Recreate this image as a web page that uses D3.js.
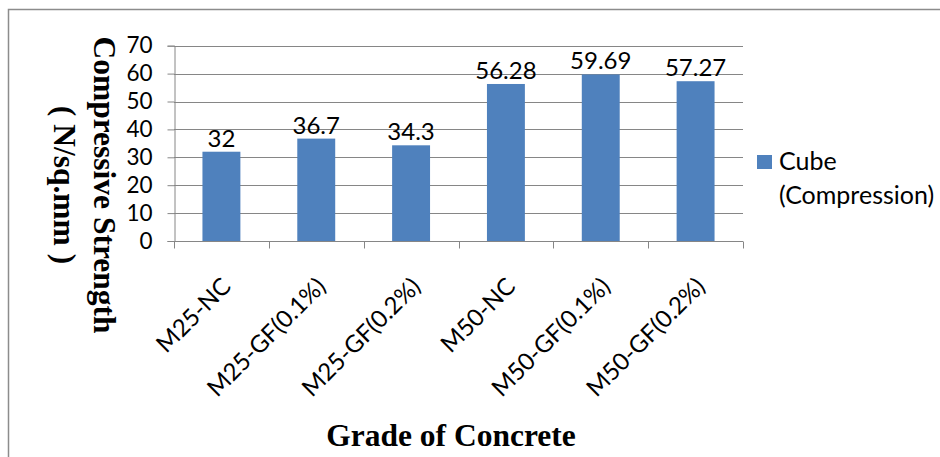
<!DOCTYPE html>
<html>
<head>
<meta charset="utf-8">
<script src="https://cdn.jsdelivr.net/npm/d3@7"></script>
<style>
  html, body { margin: 0; padding: 0; background: #fff; }
  svg { display: block; }
</style>
</head>
<body>
<svg id="chart" width="940" height="457"></svg>
<script>
// Compressive strength of cube specimens by concrete grade
const categories = ["M25-NC", "M25-GF(0.1%)", "M25-GF(0.2%)", "M50-NC", "M50-GF(0.1%)", "M50-GF(0.2%)"];
const cubeStrength = [32, 36.7, 34.3, 56.28, 59.69, 57.27];
const valueLabels = ["32", "36.7", "34.3", "56.28", "59.69", "57.27"];
const yTicks = [0, 10, 20, 30, 40, 50, 60, 70];
const seriesName = ["Cube", "(Compression)"];
const yTitle = ["Compressive Strength", "( N/sq.mm )"];
const xTitle = "Grade of Concrete";

const W = 940, H = 457;
const plot = { left: 174, right: 743, top: 45.7, bottom: 241 };
const barColor = "#4F81BD";
const gridColor = "#868686";
const sansFont = "Lato, 'Open Sans', sans-serif";
const serifFont = "'Liberation Serif', 'DejaVu Serif', serif";

const svg = d3.select("#chart");

// outer frame
svg.append("rect")
  .attr("x", 8.5).attr("y", 9.5)
  .attr("width", W).attr("height", H)
  .attr("fill", "#fff")
  .attr("stroke", "#8c8c8c").attr("stroke-width", 1.5);

const x = d3.scaleBand()
  .domain(categories)
  .range([plot.left, plot.right])
  .paddingInner(0.6)
  .paddingOuter(0.3);

const xCat = d3.scaleBand()
  .domain(categories)
  .range([plot.left, plot.right]);

const y = d3.scaleLinear()
  .domain([0, 70])
  .range([plot.bottom, plot.top]);

// horizontal gridlines
svg.append("g")
  .selectAll("line")
  .data(yTicks.filter(d => d > 0))
  .join("line")
  .attr("x1", plot.left).attr("x2", plot.right)
  .attr("y1", d => Math.round(y(d)) + 0.5).attr("y2", d => Math.round(y(d)) + 0.5)
  .attr("stroke", gridColor).attr("stroke-width", 1);

// bars
svg.append("g")
  .selectAll("rect")
  .data(cubeStrength)
  .join("rect")
  .attr("x", (d, i) => x(categories[i]))
  .attr("y", d => y(d))
  .attr("width", x.bandwidth())
  .attr("height", d => y(0) - y(d))
  .attr("fill", barColor);

// y axis
const yAxis = d3.axisLeft(y)
  .tickValues(yTicks)
  .tickSize(7)
  .tickPadding(15)
  .tickFormat(d3.format("d"));
const gy = svg.append("g")
  .attr("transform", `translate(${plot.left + 0.5},0)`)
  .call(yAxis);
gy.select(".domain").attr("stroke", gridColor);
gy.selectAll(".tick line").attr("stroke", gridColor);
gy.selectAll(".tick text")
  .attr("font-family", sansFont)
  .attr("font-size", 22.5)
  .attr("fill", "#000");

// x axis: ticks at category boundaries
const gx = svg.append("g")
  .attr("transform", `translate(0,${Math.round(plot.bottom) + 0.5})`);
gx.append("line")
  .attr("x1", plot.left).attr("x2", plot.right)
  .attr("stroke", gridColor);
gx.selectAll("line.tick")
  .data(categories.concat([null]))
  .join("line")
  .attr("class", "tick")
  .attr("x1", (d, i) => Math.round(plot.left + i * xCat.step()) + 0.5)
  .attr("x2", (d, i) => Math.round(plot.left + i * xCat.step()) + 0.5)
  .attr("y1", 0).attr("y2", 7)
  .attr("stroke", gridColor);

// category labels, rotated
svg.append("g")
  .selectAll("text")
  .data(categories)
  .join("text")
  .attr("transform", d => `translate(${xCat(d) + xCat.bandwidth() / 2 + 11},${plot.bottom + 47}) rotate(-45)`)
  .attr("text-anchor", "end")
  .attr("font-family", sansFont)
  .attr("font-size", 24)
  .attr("fill", "#000")
  .text(d => d);

// value labels
svg.append("g")
  .selectAll("text")
  .data(cubeStrength)
  .join("text")
  .attr("x", (d, i) => x(categories[i]) + x.bandwidth() / 2)
  .attr("y", d => y(d) - 5)
  .attr("text-anchor", "middle")
  .attr("font-family", sansFont)
  .attr("font-size", 24)
  .attr("fill", "#000")
  .text((d, i) => valueLabels[i]);

// y axis title (two lines, rotated)
const yt = svg.append("g")
  .attr("transform", `translate(94,185) rotate(90)`);
yt.selectAll("text")
  .data(yTitle)
  .join("text")
  .attr("x", 0)
  .attr("y", (d, i) => i * 40)
  .attr("text-anchor", "middle")
  .attr("font-family", serifFont)
  .attr("font-weight", "bold")
  .attr("font-size", 31.5)
  .attr("fill", "#000")
  .text(d => d);

// x axis title
svg.append("text")
  .attr("x", 451).attr("y", 446)
  .attr("text-anchor", "middle")
  .attr("font-family", serifFont)
  .attr("font-weight", "bold")
  .attr("font-size", 31.5)
  .attr("fill", "#000")
  .text(xTitle);

// legend
const lg = svg.append("g").attr("transform", "translate(757,155)");
lg.append("rect")
  .attr("width", 15).attr("height", 14)
  .attr("fill", barColor);
lg.selectAll("text")
  .data(seriesName)
  .join("text")
  .attr("x", 22)
  .attr("y", (d, i) => 15 + i * 34)
  .attr("font-family", sansFont)
  .attr("font-size", 25)
  .attr("fill", "#000")
  .text(d => d);
</script>
</body>
</html>
